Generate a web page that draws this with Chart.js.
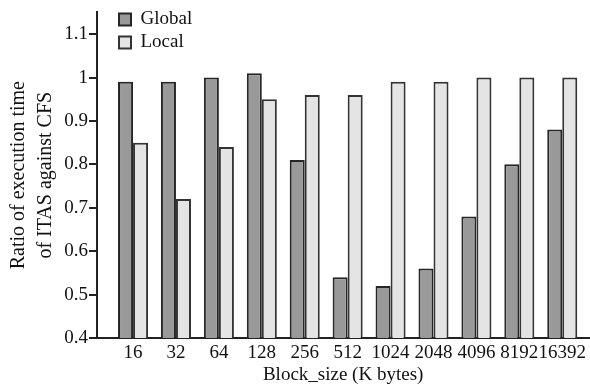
<!DOCTYPE html>
<html>
<head>
<meta charset="utf-8">
<script src="https://cdn.jsdelivr.net/npm/chart.js@4"></script>
<style>
  html, body { margin: 0; padding: 0; background: #fff; }
  #wrap { width: 590px; height: 387px; }
</style>
</head>
<body>
<div id="wrap"><canvas id="chart1" width="590" height="387"></canvas></div>
<script>
const blockSizes = ['16', '32', '64', '128', '256', '512', '1024', '2048', '4096', '8192', '16392'];
const globalRatio = [0.99, 0.99, 1.00, 1.01, 0.81, 0.54, 0.52, 0.56, 0.68, 0.80, 0.88];
const localRatio = [0.85, 0.72, 0.84, 0.95, 0.96, 0.96, 0.99, 0.99, 1.00, 1.00, 1.00];

const serif = '"Liberation Serif", "Times New Roman", serif';

const toPoints = arr => arr.map((v, i) => ({ x: i, y: v }));

// nudge the in-plot legend a little right of the y axis, like the original
const legendShift = {
    id: 'legendShift',
    afterLayout(chart) {
        chart.legend.left += 18;
        chart.legend.top += 6;
    }
};

function draw() {
    new Chart(document.getElementById('chart1'), {
        type: 'bar',
        data: {
            datasets: [{
                label: 'Global',
                data: toPoints(globalRatio),
                backgroundColor: '#999999',
                borderColor: '#262626',
                borderWidth: 2
            }, {
                label: 'Local',
                data: toPoints(localRatio),
                backgroundColor: '#e4e4e4',
                borderColor: '#333333',
                borderWidth: 2
            }]
        },
        plugins: [legendShift],
        options: {
            responsive: false,
            animation: false,
            categoryPercentage: 0.7,
            barPercentage: 1.0,
            layout: { padding: { top: 5, right: 0, left: 0, bottom: 0 } },
            plugins: {
                tooltip: { enabled: false },
                legend: {
                    position: 'chartArea',
                    align: 'start',
                    labels: {
                        boxWidth: 12,
                        boxHeight: 12,
                        padding: 4,
                        color: '#111',
                        font: { family: serif, size: 19 }
                    }
                }
            },
            scales: {
                x: {
                    type: 'linear',
                    offset: false,
                    min: -0.84,
                    max: 10.63,
                    grid: { display: false, drawTicks: false },
                    border: { display: true, color: '#222', width: 2 },
                    ticks: {
                        stepSize: 1,
                        autoSkip: false,
                        maxRotation: 0,
                        includeBounds: false,
                        color: '#111',
                        padding: 4,
                        font: { family: serif, size: 19 },
                        callback: v => blockSizes[v] ?? ''
                    },
                    title: {
                        display: true,
                        text: 'Block_size (K bytes)',
                        color: '#111',
                        padding: { top: 0, bottom: 1 },
                        font: { family: serif, size: 19 }
                    },
                    afterFit: s => { s.height = 49; }
                },
                y: {
                    min: 0.4,
                    max: 1.15,
                    grid: {
                        drawOnChartArea: false,
                        drawTicks: true,
                        tickLength: 8,
                        color: '#222',
                        lineWidth: 2
                    },
                    border: { display: true, color: '#222', width: 2 },
                    ticks: {
                        stepSize: 0.1,
                        includeBounds: false,
                        color: '#111',
                        padding: 1,
                        font: { family: serif, size: 19 },
                        callback: v => String(+v.toFixed(2))
                    },
                    title: {
                        display: true,
                        text: ['Ratio of execution time', 'of ITAS against CFS'],
                        color: '#111',
                        padding: { top: 5, bottom: 0 },
                        font: { family: serif, size: 20, lineHeight: 1.35 }
                    },
                    afterFit: s => { s.width = 97; }
                }
            }
        }
    });
}

if (document.fonts && document.fonts.load) {
    document.fonts.load('19px "Liberation Serif"').then(draw, draw);
} else {
    draw();
}
</script>
</body>
</html>
